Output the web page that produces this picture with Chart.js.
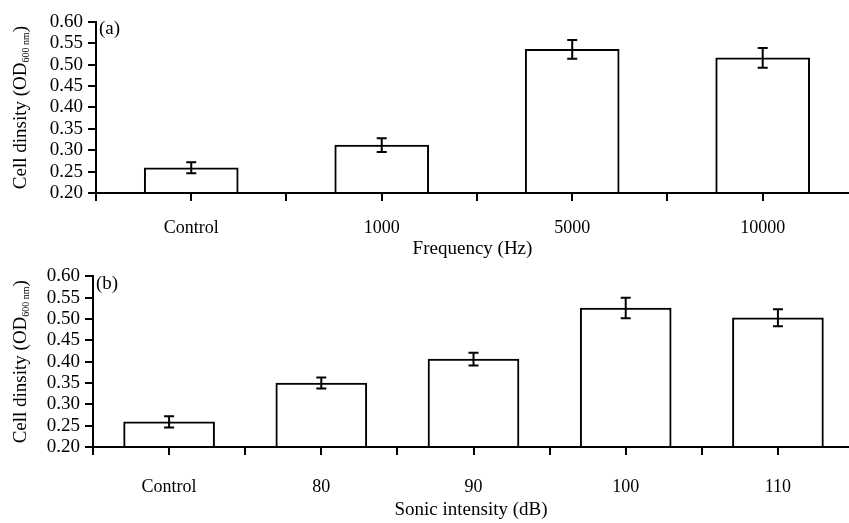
<!DOCTYPE html>
<html>
<head>
<meta charset="utf-8">
<script src="https://cdn.jsdelivr.net/npm/chart.js@4.4.0/dist/chart.umd.min.js"></script>
<style>
  body { margin: 0; background: #fff; }
  #wrap { position: relative; width: 849px; height: 523px; }
  canvas { position: absolute; left: 0; }
</style>
</head>
<body>
<div id="wrap">
  <canvas id="chartA" width="849" height="260" style="top:0px"></canvas>
  <canvas id="chartB" width="849" height="263" style="top:260px"></canvas>
</div>
<script>
// panel (a): frequency
const freqLabels = ['Control', '1000', '5000', '10000'];
const freqValues = [0.259, 0.312, 0.536, 0.516];
const freqErrors = [0.013, 0.016, 0.022, 0.023];

// panel (b): sonic intensity
const intensityLabels = ['Control', '80', '90', '100', '110'];
const intensityValues = [0.259, 0.350, 0.406, 0.526, 0.503];
const intensityErrors = [0.013, 0.013, 0.015, 0.024, 0.020];

const yTickValues = [0.20, 0.25, 0.30, 0.35, 0.40, 0.45, 0.50, 0.55, 0.60];

const SERIF = '"Liberation Serif", "Times New Roman", serif';

// error bars + rotated y title with subscript + panel letter
const panelPlugin = {
  id: 'panel',
  afterDatasetsDraw(chart) {
    const ctx = chart.ctx;
    const y = chart.scales.y;
    const ds = chart.data.datasets[0];
    const meta = chart.getDatasetMeta(0);
    ctx.save();
    ctx.strokeStyle = '#000';
    ctx.lineWidth = 2;
    meta.data.forEach((bar, i) => {
      const v = ds.data[i].y, e = ds.errors[i];
      const top = y.getPixelForValue(v + e);
      const bot = y.getPixelForValue(v - e);
      ctx.beginPath();
      ctx.moveTo(bar.x, top); ctx.lineTo(bar.x, bot);
      ctx.moveTo(bar.x - 5, top); ctx.lineTo(bar.x + 5, top);
      ctx.moveTo(bar.x - 5, bot); ctx.lineTo(bar.x + 5, bot);
      ctx.stroke();
    });
    ctx.restore();
  },
  afterDraw(chart, args, opts) {
    const ctx = chart.ctx;
    const area = chart.chartArea;
    ctx.save();
    ctx.fillStyle = '#000';
    // panel letter
    ctx.font = '19px ' + SERIF;
    ctx.textBaseline = 'top';
    ctx.textAlign = 'left';
    ctx.fillText(opts.letter, area.left + 3, area.top - 2);
    // y title
    const main = 'Cell dinsity (OD', sub = '600 nm', close = ')';
    ctx.font = '19px ' + SERIF;
    const w1 = ctx.measureText(main).width;
    const w3 = ctx.measureText(close).width;
    ctx.font = '10px ' + SERIF;
    const w2 = ctx.measureText(sub).width;
    const total = w1 + w2 + w3;
    ctx.translate(26, (area.top + area.bottom) / 2);
    ctx.rotate(-Math.PI / 2);
    ctx.textBaseline = 'alphabetic';
    let pos = -total / 2;
    ctx.font = '19px ' + SERIF;
    ctx.fillText(main, pos, 0);
    pos += w1;
    ctx.font = '10px ' + SERIF;
    ctx.fillText(sub, pos, 3);
    pos += w2;
    ctx.font = '19px ' + SERIF;
    ctx.fillText(close, pos, 0);
    ctx.restore();
  }
};

function makeChart(id, p) {
  const xTickValues = [];
  for (let v = -0.5; v <= p.labels.length - 1 + 0.01; v += 0.5) xTickValues.push(v);
  return new Chart(document.getElementById(id), {
    type: 'bar',
    data: {
      datasets: [{
        data: p.values.map((v, i) => ({ x: i, y: v })),
        errors: p.errors,
        backgroundColor: '#fff',
        borderColor: '#000',
        borderWidth: 2,
        barThickness: p.barThickness,
        base: 0.2
      }]
    },
    options: {
      responsive: false,
      animation: false,
      layout: { padding: { top: p.padTop, right: 0, bottom: 0, left: 0 } },
      plugins: {
        legend: { display: false },
        tooltip: { enabled: false },
        panel: { letter: p.letter }
      },
      scales: {
        x: {
          type: 'linear',
          offset: false,
          min: -0.5,
          max: p.xMax,
          afterBuildTicks: (s) => { s.ticks = xTickValues.map(v => ({ value: v })); },
          afterFit: (s) => { s.height = p.xHeight; },
          ticks: {
            color: '#000',
            font: { family: SERIF, size: 18 },
            padding: p.labelPad,
            maxRotation: 0,
            autoSkip: false,
            callback: (v) => Number.isInteger(v) && v >= 0 ? p.labels[v] : ''
          },
          grid: { offset: false, drawOnChartArea: false, color: '#000', lineWidth: 2, tickLength: 8 },
          border: { color: '#000', width: 2 },
          title: {
            display: true,
            text: p.xTitle,
            color: '#000',
            font: { family: SERIF, size: 19 },
            padding: { top: 0, bottom: p.titlePad }
          }
        },
        y: {
          min: 0.2,
          max: 0.6,
          afterBuildTicks: (s) => { s.ticks = yTickValues.map(v => ({ value: v })); },
          afterFit: (s) => { s.width = p.yWidth; },
          ticks: {
            color: '#000',
            font: { family: SERIF, size: 19 },
            padding: 5,
            autoSkip: false,
            callback: (v) => v.toFixed(2)
          },
          grid: { drawOnChartArea: false, color: '#000', lineWidth: 2, tickLength: 8 },
          border: { color: '#000', width: 2 }
        }
      }
    },
    plugins: [panelPlugin]
  });
}

makeChart('chartA', {
  labels: freqLabels, values: freqValues, errors: freqErrors,
  letter: '(a)', xTitle: 'Frequency (Hz)',
  xMax: 3.453, barThickness: 94, yWidth: 96, padTop: 22,
  xHeight: 67, labelPad: 16, titlePad: 0
});

makeChart('chartB', {
  labels: intensityLabels, values: intensityValues, errors: intensityErrors,
  letter: '(b)', xTitle: 'Sonic intensity (dB)',
  xMax: 4.467, barThickness: 91, yWidth: 93, padTop: 12,
  xHeight: 76, labelPad: 21, titlePad: 2
});
</script>
</body>
</html>
